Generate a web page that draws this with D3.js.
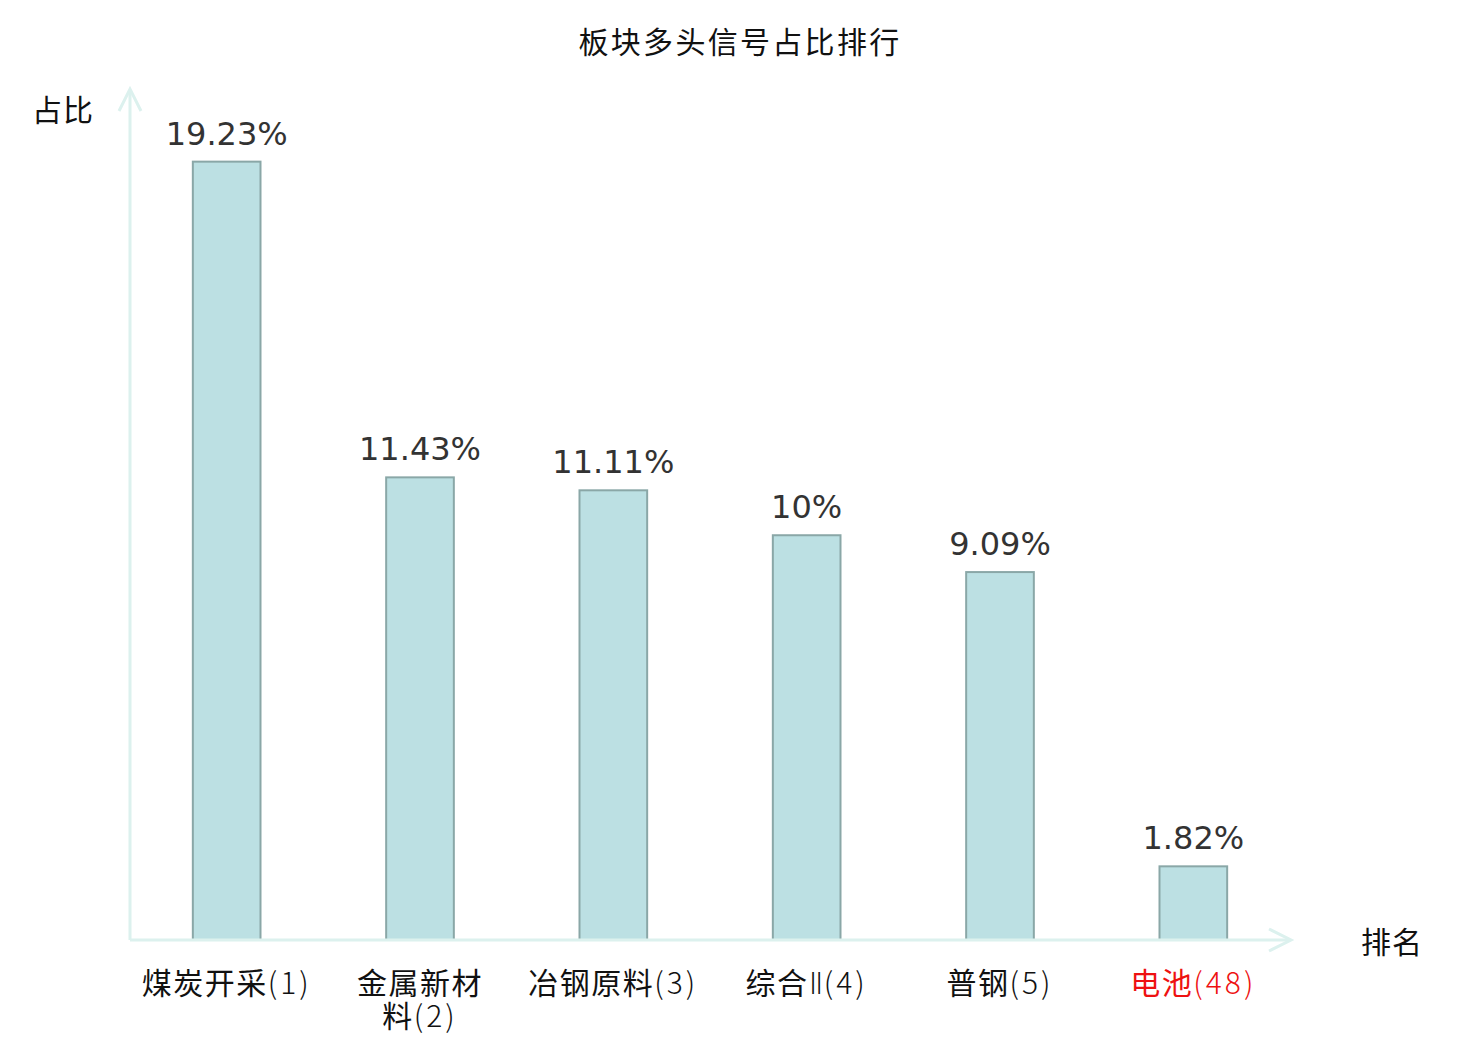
<!DOCTYPE html>
<html lang="zh">
<head>
<meta charset="UTF-8">
<script src="https://d3js.org/d3.v7.min.js"></script>
<title>板块多头信号占比排行</title>
<style>
  body { margin: 0; background: #fff; }
  svg { display: block; }
</style>
</head>
<body>
<div id="chart"></div>
<script>
    const categories = ["煤炭开采", "金属新材料", "冶钢原料", "综合", "普钢", "电池"];
    const suffixes = ["", "", "", "Ⅱ", "", ""];
    const ranks = [1, 2, 3, 4, 5, 48];
    const values = [19.23, 11.43, 11.11, 10, 9.09, 1.82];
    const labels = ["19.23%", "11.43%", "11.11%", "10%", "9.09%", "1.82%"];

    const width = 1480;
    const height = 1040;
    const cjk = '"Noto Sans CJK SC", "Noto Sans", sans-serif';

    const svg = d3.select("#chart")
        .append("svg")
        .attr("width", width)
        .attr("height", height);

    // scales
    const x0 = 130, x1 = 1290, yBase = 940, yTop = 90;
    const xScale = d3.scaleBand()
        .domain(d3.range(categories.length))
        .range([x0, x1])
        .paddingInner(0.65)
        .paddingOuter(0.325);
    const yScale = d3.scaleLinear()
        .domain([0, 21])
        .range([yBase, yTop]);

    // title
    svg.append("text")
        .attr("x", width / 2)
        .attr("y", 53)
        .attr("text-anchor", "middle")
        .attr("font-family", cjk)
        .attr("font-size", 30)
        .attr("letter-spacing", 2.3)
        .attr("fill", "#111")
        .text("板块多头信号占比排行");

    // bars
    svg.append("g")
        .selectAll("rect")
        .data(values)
        .join("rect")
        .attr("x", (d, i) => xScale(i))
        .attr("y", d => yScale(d))
        .attr("width", xScale.bandwidth())
        .attr("height", d => yScale(0) - yScale(d))
        .attr("fill", "#bce0e3")
        .attr("stroke", "#8aa7a7")
        .attr("stroke-width", 2);

    // value labels
    svg.append("g")
        .selectAll("text")
        .data(values)
        .join("text")
        .attr("x", (d, i) => xScale(i) + xScale.bandwidth() / 2)
        .attr("y", d => yScale(d) - 17)
        .attr("text-anchor", "middle")
        .attr("font-family", "DejaVu Sans, sans-serif")
        .attr("font-size", 32)
        .attr("fill", "#333")
        .text((d, i) => labels[i]);

    // axes with arrows
    const axisColor = "#dcf1ee";
    const axes = svg.append("g")
        .attr("stroke", axisColor)
        .attr("stroke-width", 3)
        .attr("fill", "none");
    axes.append("line")
        .attr("x1", x0).attr("y1", yBase)
        .attr("x2", x0).attr("y2", yTop);
    axes.append("path")
        .attr("d", `M${x0 - 11},${yTop + 21}L${x0},${yTop - 1}L${x0 + 11},${yTop + 21}`);
    axes.append("line")
        .attr("x1", x0).attr("y1", yBase)
        .attr("x2", x1).attr("y2", yBase);
    axes.append("path")
        .attr("d", `M${x1 - 21},${yBase - 11}L${x1 + 1},${yBase}L${x1 - 21},${yBase + 11}`);

    // axis names
    svg.append("text")
        .attr("x", 63)
        .attr("y", 121)
        .attr("text-anchor", "middle")
        .attr("font-family", cjk)
        .attr("font-size", 30)
        .attr("letter-spacing", 1)
        .attr("fill", "#111")
        .text("占比");
    svg.append("text")
        .attr("x", 1392)
        .attr("y", 953)
        .attr("text-anchor", "middle")
        .attr("font-family", cjk)
        .attr("font-size", 30)
        .attr("letter-spacing", 1)
        .attr("fill", "#111")
        .text("排名");

    // category labels (wrap long names)
    const tick = svg.append("g")
        .selectAll("text")
        .data(categories)
        .join("text")
        .attr("y", 994)
        .attr("text-anchor", "middle")
        .attr("font-family", cjk)
        .attr("font-size", 30)
        .attr("fill", (d, i) => i === categories.length - 1 ? "#ee1111" : "#111");

    tick.each(function (d, i) {
        const el = d3.select(this);
        const cx = xScale(i) + xScale.bandwidth() / 2;
        let line = el.append("tspan").attr("x", cx);
        let name = d;
        if (d.length > 4) {
            line.attr("letter-spacing", 1.5).text(d.slice(0, 4));
            line = el.append("tspan").attr("x", cx).attr("dy", 33);
            name = d.slice(4);
        }
        line.append("tspan").attr("letter-spacing", 1.5).text(name);
        if (suffixes[i]) {
            line.append("tspan")
                .attr("font-family", "DejaVu Sans, sans-serif")
                .attr("font-weight", 200)
                .attr("font-size", 31)
                .text(suffixes[i]);
        }
        line.append("tspan")
            .attr("font-weight", 300)
            .attr("letter-spacing", 3)
            .text("(" + ranks[i] + ")");
    });
</script>
</body>
</html>
